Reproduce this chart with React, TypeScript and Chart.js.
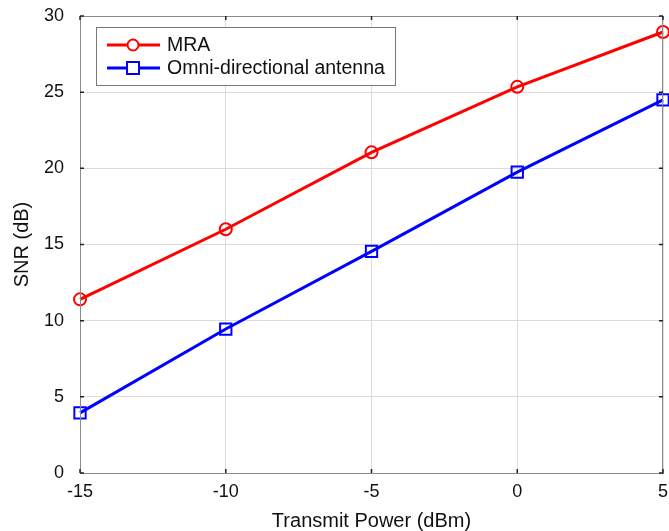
import React, { useEffect, useRef } from "react";
import { Chart, registerables } from "chart.js";

Chart.register(...registerables);

const xValues = [-15, -10, -5, 0, 5];
const mraSNR = [11.4, 16.0, 21.05, 25.35, 28.95];
const omniSNR = [3.95, 9.45, 14.55, 19.75, 24.5];
const seriesNames = ["MRA", "Omni-directional antenna"];
const xTitle = "Transmit Power (dBm)";
const yTitle = "SNR (dB)";

const FONT = "'Liberation Sans', Arial, sans-serif";

const framePlugin = {
  id: "frame",
  afterDraw(chart: any) {
    const { ctx, chartArea, scales } = chart;
    const { left, right, top, bottom } = chartArea;
    ctx.save();
    ctx.strokeStyle = "#8c8c8c";
    ctx.lineWidth = 1;
    ctx.strokeRect(left + 0.5, top + 0.5, right - left - 1, bottom - top);
    ctx.strokeStyle = "#222";
    ctx.lineWidth = 1.5;
    scales.x.ticks.forEach((t: any) => {
      const px = scales.x.getPixelForValue(t.value);
      ctx.beginPath();
      ctx.moveTo(px, bottom);
      ctx.lineTo(px, bottom - 4);
      ctx.moveTo(px, top);
      ctx.lineTo(px, top + 4);
      ctx.stroke();
    });
    scales.y.ticks.forEach((t: any) => {
      const py = scales.y.getPixelForValue(t.value);
      ctx.beginPath();
      ctx.moveTo(left, py);
      ctx.lineTo(left + 4, py);
      ctx.moveTo(right, py);
      ctx.lineTo(right - 4, py);
      ctx.stroke();
    });
    // legend
    const lx = left + 16;
    const ly = top + 11;
    const lw = 299;
    const lh = 58;
    ctx.fillStyle = "#fff";
    ctx.fillRect(lx, ly, lw, lh);
    ctx.strokeStyle = "#777";
    ctx.lineWidth = 1;
    ctx.strokeRect(lx + 0.5, ly + 0.5, lw, lh);
    const colors = ["#ff0000", "#0000ff"];
    ctx.font = `19.5px ${FONT}`;
    ctx.textBaseline = "middle";
    seriesNames.forEach((name, i) => {
      const cy = ly + 18 + i * 23;
      ctx.strokeStyle = colors[i];
      ctx.lineWidth = 3;
      ctx.beginPath();
      ctx.moveTo(lx + 11, cy);
      ctx.lineTo(lx + 64, cy);
      ctx.stroke();
      ctx.lineWidth = 2;
      ctx.fillStyle = "#fff";
      if (i === 0) {
        ctx.beginPath();
        ctx.arc(lx + 37, cy, 5.5, 0, Math.PI * 2);
        ctx.fill();
        ctx.stroke();
      } else {
        ctx.fillRect(lx + 31, cy - 6, 12, 12);
        ctx.strokeRect(lx + 31, cy - 6, 12, 12);
      }
      ctx.fillStyle = "#111";
      ctx.textAlign = "left";
      ctx.fillText(name, lx + 71, cy + 1);
    });
    ctx.restore();
  },
};

export default function App() {
  const ref = useRef<HTMLCanvasElement>(null);
  useEffect(() => {
    const chart = new Chart(ref.current!, {
      type: "line",
      data: {
        datasets: [
          {
            label: seriesNames[0],
            data: xValues.map((x, i) => ({ x, y: mraSNR[i] })),
            borderColor: "#ff0000",
            backgroundColor: "rgba(255,255,255,0)",
            borderWidth: 3,
            pointStyle: "circle",
            pointRadius: 6,
            pointHoverRadius: 6,
            pointBorderWidth: 2,
            pointBorderColor: "#ff0000",
            pointBackgroundColor: "rgba(255,255,255,0)",
          },
          {
            label: seriesNames[1],
            data: xValues.map((x, i) => ({ x, y: omniSNR[i] })),
            borderColor: "#0000ff",
            backgroundColor: "rgba(255,255,255,0)",
            borderWidth: 3,
            pointStyle: "rect",
            pointRadius: 8,
            pointHoverRadius: 8,
            pointBorderWidth: 2,
            pointBorderColor: "#0000ff",
            pointBackgroundColor: "rgba(255,255,255,0)",
          },
        ],
      },
      options: {
        animation: false,
        responsive: false,
        clip: false,
        layout: { padding: { top: 16, right: 0, bottom: -2, left: 10 } },
        plugins: { legend: { display: false }, tooltip: { enabled: false } },
        scales: {
          x: {
            type: "linear",
            min: -15,
            max: 5,
            afterFit: (s: any) => {
              s.paddingLeft = 0;
              s.paddingRight = 0;
            },
            ticks: { stepSize: 5, color: "#111", font: { family: FONT, size: 18 }, padding: 8 },
            grid: { color: "#dcdcdc", drawTicks: false },
            border: { color: "#8c8c8c" },
            title: { display: true, text: xTitle, color: "#111", font: { family: FONT, size: 20 }, padding: { top: -1.6, bottom: 0 } },
          },
          y: {
            type: "linear",
            min: 0,
            max: 30,
            afterFit: (s: any) => {
              s.paddingTop = 0;
              s.paddingBottom = 0;
            },
            ticks: { stepSize: 5, color: "#111", font: { family: FONT, size: 18 }, padding: 16 },
            grid: { color: "#dcdcdc", drawTicks: false },
            border: { color: "#8c8c8c" },
            title: { display: true, text: yTitle, color: "#111", font: { family: FONT, size: 20 }, padding: { top: 0, bottom: -6 } },
          },
        },
      },
      plugins: [framePlugin],
    });
    return () => chart.destroy();
  }, []);
  return (
    <div style={{ position: "fixed", left: 0, top: 0, width: 669, height: 531, overflow: "hidden", background: "#fff" }}>
      <canvas ref={ref} width={673} height={531} style={{ width: 673, height: 531, display: "block" }} />
    </div>
  );
}
